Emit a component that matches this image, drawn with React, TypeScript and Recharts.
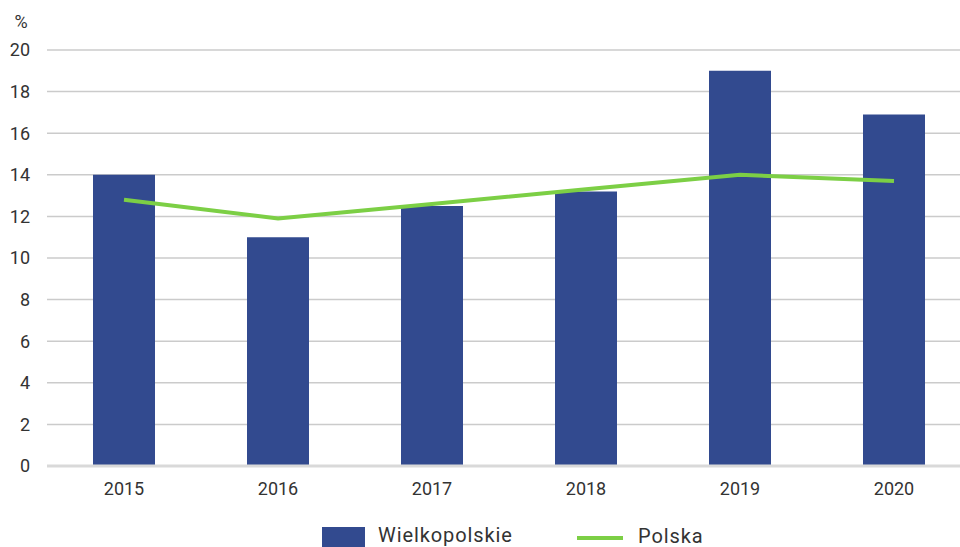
import { ComposedChart, Bar, Line, XAxis, YAxis, CartesianGrid, Legend } from 'recharts';

const years = ['2015', '2016', '2017', '2018', '2019', '2020'];
const wielkopolskie = [14.0, 11.0, 12.5, 13.2, 19.0, 16.9];
const polska = [12.8, 11.9, 12.6, 13.3, 14.0, 13.7];
const yTicks = [0, 2, 4, 6, 8, 10, 12, 14, 16, 18, 20];

const data = years.map((year, i) => ({
  year,
  wielkopolskie: wielkopolskie[i],
  polska: polska[i],
}));

const BAR_COLOR = '#324a8f';
const LINE_COLOR = '#7ccf45';
const TEXT_COLOR = '#333333';
const FONT = 'Roboto, "Noto Sans", sans-serif';

function ChartLegend() {
  return (
    <div style={{ height: 40, position: 'relative', fontFamily: FONT, fontSize: 20, letterSpacing: 0.9, color: TEXT_COLOR }}>
      <div style={{ position: 'absolute', left: 322, top: 21, width: 43, height: 26, background: BAR_COLOR }} />
      <span style={{ position: 'absolute', left: 378, top: 17, lineHeight: '24px', whiteSpace: 'nowrap' }}>Wielkopolskie</span>
      <div style={{ position: 'absolute', left: 577, top: 30, width: 46, height: 4, background: LINE_COLOR }} />
      <span style={{ position: 'absolute', left: 638, top: 18, lineHeight: '24px', whiteSpace: 'nowrap' }}>Polska</span>
    </div>
  );
}

export default function App() {
  return (
    <div style={{ position: 'absolute', left: 0, top: 0, width: 960, height: 547, overflow: 'hidden', background: '#fff' }}>
      <ComposedChart
        width={972}
        height={547}
        data={data}
        margin={{ top: 50, right: 1, bottom: 1, left: 0 }}
      >
        <CartesianGrid vertical={false} stroke="#cbcbcb" strokeWidth={1.5} />
        <XAxis
          dataKey="year"
          height={40}
          axisLine={{ stroke: '#d9d9d9', strokeWidth: 3 }}
          tickLine={false}
          tickMargin={10}
          tick={{ fill: TEXT_COLOR, fontSize: 18, fontFamily: FONT }}
        />
        <YAxis
          width={47}
          domain={[0, 20]}
          ticks={yTicks}
          axisLine={false}
          tickLine={false}
          tickMargin={11}
          tick={{ fill: TEXT_COLOR, fontSize: 18, fontFamily: FONT }}
          label={{
            content: () => (
              <text x={21} y={28} textAnchor="middle" fill={TEXT_COLOR} fontSize={18} fontFamily={FONT}>
                %
              </text>
            ),
          }}
        />
        <Legend verticalAlign="bottom" content={() => <ChartLegend />} />
        <Bar dataKey="wielkopolskie" name="Wielkopolskie" fill={BAR_COLOR} barSize={62} isAnimationActive={false} />
        <Line
          dataKey="polska"
          name="Polska"
          type="linear"
          stroke={LINE_COLOR}
          strokeWidth={4}
          dot={false}
          activeDot={false}
          isAnimationActive={false}
        />
      </ComposedChart>
    </div>
  );
}
